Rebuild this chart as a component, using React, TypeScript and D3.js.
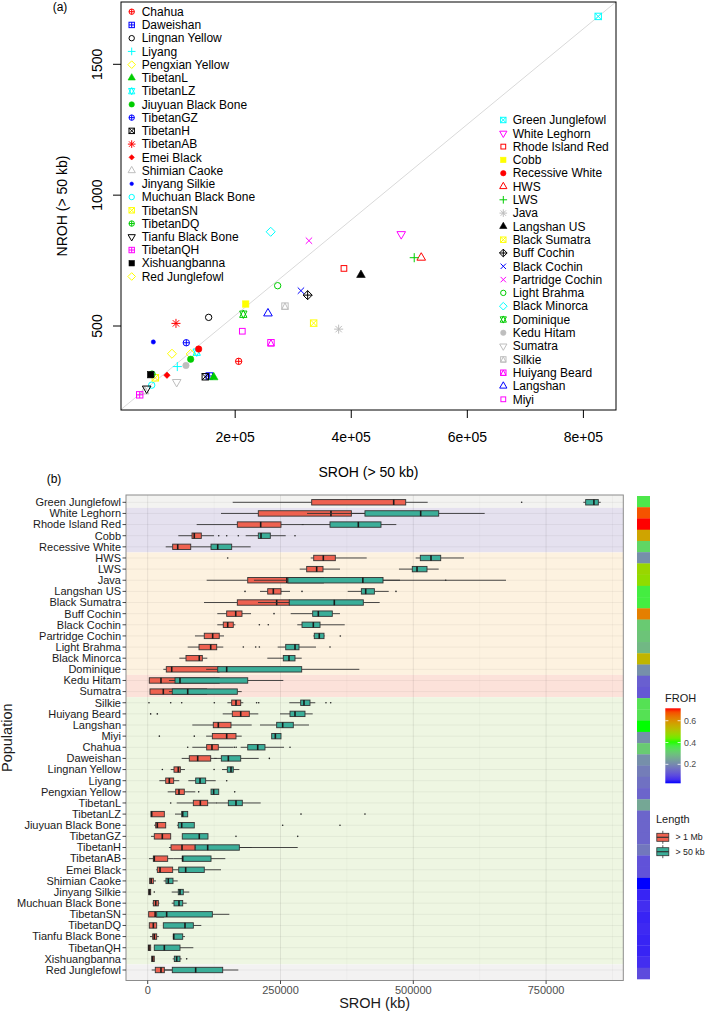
import React from "react";
import * as d3 from "d3";

// ---------- Panel (a) data: mean SROH / NROH (> 50 kb) ----------
const scatterPops = [
  "Chahua", "Daweishan", "Lingnan Yellow", "Liyang", "Pengxian Yellow", "TibetanL", "TibetanLZ",
  "Jiuyuan Black Bone", "TibetanGZ", "TibetanH", "TibetanAB", "Emei Black", "Shimian Caoke",
  "Jinyang Silkie", "Muchuan Black Bone", "TibetanSN", "TibetanDQ", "Tianfu Black Bone", "TibetanQH",
  "Xishuangbanna", "Red Junglefowl",
  "Green Junglefowl", "White Leghorn", "Rhode Island Red", "Cobb", "Recessive White", "HWS", "LWS",
  "Java", "Langshan US", "Black Sumatra", "Buff Cochin", "Black Cochin", "Partridge Cochin",
  "Light Brahma", "Black Minorca", "Dominique", "Kedu Hitam", "Sumatra", "Silkie", "Huiyang Beard",
  "Langshan", "Miyi",
];
const leftLegendCount = 21;
const scatterSROH = [
  206000, 155400, 154300, 100300, 123300, 163000, 133700, 123300, 115800, 148500, 98000, 82500, 44000,
  59000, 56200, 62400, 56700, 47500, 35500, 54400, 91100,
  825500, 486100, 387400, 218100, 137100, 520600, 508500, 378300, 416700, 335200, 324900, 313300,
  327100, 273200, 261200, 214000, 115200, 99200, 285800, 261700, 256500, 212300,
];
const scatterNROH = [
  365, 309, 533, 345, 393, 304, 400, 373, 436, 306, 510, 312, 250, 439, 274, 302, 316, 261, 237, 314,
  394,
  1683, 851, 720, 584, 412, 761, 761, 488, 695, 511, 618, 635, 826, 654, 860, 545, 349, 286, 576,
  436, 548, 480,
];
const scatterPch = [
  10, 12, 1, 3, 5, 17, 11, 16, 10, 7, 8, 18, 2, 20, 1, 7, 10, 6, 12, 15, 5,
  7, 6, 0, 15, 16, 2, 3, 8, 17, 7, 9, 4, 4, 1, 5, 11, 16, 6, 14, 14, 2, 0,
];
const scatterColor = [
  "#FF0000", "#0000FF", "#000000", "#00FFFF", "#FFFF00", "#00CD00", "#00FFFF", "#00CD00", "#0000FF",
  "#000000", "#FF0000", "#FF0000", "#BEBEBE", "#0000FF", "#00FFFF", "#FFFF00", "#00CD00", "#000000",
  "#FF00FF", "#000000", "#FFFF00",
  "#00FFFF", "#FF00FF", "#FF0000", "#FFFF00", "#FF0000", "#FF0000", "#00CD00", "#BEBEBE", "#000000",
  "#FFFF00", "#000000", "#0000FF", "#FF00FF", "#00CD00", "#00FFFF", "#00CD00", "#BEBEBE", "#BEBEBE",
  "#BEBEBE", "#FF00FF", "#0000FF", "#FF00FF",
];
const diagIntercept = 175;
const diagSlope = 0.001826;
const xTicksA = [200000, 400000, 600000, 800000];
const xTickLabelsA = ["2e+05", "4e+05", "6e+05", "8e+05"];
const yTicksA = [500, 1000, 1500];

// ---------- Panel (b) data: SROH distributions ----------
const populations = [
  "Green Junglefowl", "White Leghorn", "Rhode Island Red", "Cobb", "Recessive White", "HWS", "LWS",
  "Java", "Langshan US", "Black Sumatra", "Buff Cochin", "Black Cochin", "Partridge Cochin",
  "Light Brahma", "Black Minorca", "Dominique", "Kedu Hitam", "Sumatra", "Silkie", "Huiyang Beard",
  "Langshan", "Miyi", "Chahua", "Daweishan", "Lingnan Yellow", "Liyang", "Pengxian Yellow", "TibetanL",
  "TibetanLZ", "Jiuyuan Black Bone", "TibetanGZ", "TibetanH", "TibetanAB", "Emei Black",
  "Shimian Caoke", "Jinyang Silkie", "Muchuan Black Bone", "TibetanSN", "TibetanDQ",
  "Tianfu Black Bone", "TibetanQH", "Xishuangbanna", "Red Junglefowl",
];
// > 1 Mb : [lower whisker, Q1, median, Q3, upper whisker]
const mbLow = [160000, 138000, 92200, 57600, 33900, 306900, 286100, 111000, 211400, 106000, 131000, 131000, 89000, 75300, 59500, 29400, 3000, 4300, 150000, 141200, 84000, 110000, 84000, 64000, 43300, 21900, 37600, 54600, 6200, 12000, 6200, 40000, 2400, 16000, 3700, 1800, 9000, 1500, 3000, 4300, 1100, 7500, 7500];
const mbQ1 = [308700, 208200, 168700, 83400, 47000, 312500, 299300, 188300, 225900, 168700, 148700, 142300, 106500, 96600, 72100, 35000, 3000, 4300, 158100, 159300, 123500, 121700, 111000, 78300, 49500, 33900, 52700, 85900, 6200, 15100, 12400, 43900, 10600, 18100, 3700, 1800, 10600, 1800, 3000, 9400, 1100, 7500, 14300];
const mbMed = [463100, 345000, 212700, 87700, 56500, 330600, 318100, 262000, 236500, 242800, 165700, 150600, 122300, 118600, 97100, 45200, 25000, 29400, 166200, 175100, 132900, 148700, 121000, 94100, 57600, 40700, 58900, 99100, 7500, 18100, 27500, 64600, 12400, 23200, 6500, 3500, 15100, 14000, 10600, 12400, 2500, 9400, 25000];
const mbQ3 = [485700, 383400, 250900, 100900, 81000, 353200, 330000, 331000, 250900, 266600, 177500, 161100, 134700, 129900, 102800, 134200, 134700, 111000, 175100, 191300, 156800, 166200, 132900, 118600, 61400, 48900, 68900, 112900, 31300, 33900, 43300, 89000, 37600, 47000, 10600, 5600, 20000, 30000, 16900, 16900, 5600, 12400, 31300];
const mbHigh = [527100, 420000, 293700, 124800, 98500, 412300, 362000, 475000, 267900, 294800, 194500, 165000, 143600, 142300, 112200, 150000, 140000, 120000, 180000, 208200, 195800, 177000, 161100, 130000, 70200, 59500, 89600, 129900, 31300, 33900, 43300, 195800, 48200, 47000, 15600, 5600, 22000, 30000, 16900, 21000, 5600, 12400, 46300];
const mbOutliers = [[704000], [], [], [133700, 148700], [], [150600], [], [561000], [183200, 290500], [], [237800], [210200, 227000], [], [180000, 203300, 210200], [], [], [], [], [2400, 43300, 64000, 125400, 205000, 209000], [5600, 18100], [], [21900, 87700], [75300], [], [27600], [], [96000], [43300], [], [], [], [], [], [], [], [12400], [], [], [], [], [], [], []];
// > 50 kb
const kbLow = [820000, 300000, 290000, 184500, 98500, 504500, 473000, 200000, 376500, 207600, 269200, 281600, 311800, 244700, 225200, 110000, 40000, 40000, 266600, 249100, 211400, 233400, 175000, 125000, 139900, 76500, 119200, 128600, 51400, 55000, 65100, 89600, 48200, 47000, 30000, 45200, 45200, 16900, 29400, 48200, 12400, 47000, 31300];
const kbQ1 = [824500, 409000, 343200, 208200, 119200, 513200, 498100, 264000, 402200, 266600, 310600, 290500, 313600, 259800, 255300, 131800, 51400, 46300, 288000, 267900, 242800, 233400, 188300, 138600, 149900, 90300, 119200, 151800, 64000, 57600, 65100, 89600, 65100, 58400, 34400, 57600, 49500, 16900, 29400, 48200, 12400, 50100, 46300];
const kbMed = [840000, 513900, 396500, 213300, 131800, 533300, 507000, 405000, 410400, 351300, 321200, 311800, 323000, 277300, 266000, 148700, 60800, 75300, 294200, 277300, 254100, 240300, 207100, 151800, 156800, 98500, 124200, 166200, 65900, 64000, 97100, 112900, 65900, 71500, 38800, 60800, 58900, 35700, 70200, 49000, 31300, 54600, 90300];
const kbQ3 = [848300, 547800, 439200, 230800, 158100, 551600, 525800, 443000, 426700, 405900, 347500, 324400, 331900, 284800, 277300, 289900, 188300, 168700, 305500, 296100, 274100, 250900, 220800, 175100, 161100, 109100, 133700, 178100, 75300, 87700, 113500, 172500, 119200, 106500, 47600, 67000, 65900, 121700, 85900, 65900, 60800, 60800, 141200];
const kbHigh = [852800, 634400, 468000, 259800, 193900, 595400, 547800, 674500, 453700, 436700, 362000, 370900, 333000, 316800, 289900, 398400, 255300, 177000, 315500, 310600, 303600, 250900, 256600, 209000, 172500, 128000, 133700, 212700, 75300, 87700, 113500, 282400, 146100, 138000, 56500, 78300, 73400, 153700, 100900, 70200, 85900, 64000, 170600];
const kbOutliers = [[], [], [], [170600, 277300], [], [], [], [], [467400], [], [], [], [362600], [343200], [], [], [], [], [335600, 344500], [], [], [], [163000, 166500, 267900], [229000], [125000], [148700], [163800], [], [288600, 409000], [254100, 362000], [166200, 282400], [], [], [], [], [], [], [], [], [], [], [73400], []];
// FROH per population (colour strip)
const froh = [0.36, 0.675, 0.714, 0.57, 0.33, 0.21, 0.48, 0.47, 0.37, 0.37, 0.625, 0.31, 0.3, 0.28, 0.54, 0.21, 0.13, 0.12, 0.35, 0.35, 0.4, 0.21, 0.31, 0.21, 0.18, 0.16, 0.14, 0.25, 0.14, 0.14, 0.14, 0.17, 0.11, 0.11, 0.026, 0.05, 0.06, 0.05, 0.055, 0.05, 0.05, 0.06, 0.1];
const frohMin = 0.026;
const frohMax = 0.714;
const frohTicks = [0.2, 0.4, 0.6];
const xTicksB = [0, 250000, 500000, 750000];
const xMinorB = [125000, 375000, 625000, 875000];
const groupFirst = ["Green Junglefowl", "White Leghorn", "HWS", "Kedu Hitam", "Silkie", "Red Junglefowl"];
const groupLast = ["Green Junglefowl", "Recessive White", "Dominique", "Sumatra", "Xishuangbanna", "Red Junglefowl"];
const lengthLabels = ["> 1 Mb", "> 50 kb"];

const FONT = "'Liberation Sans', Arial, Helvetica, sans-serif";

function Pch({ pch, x, y, color, R = 3.2 }: { pch: number; x: number; y: number; color: string; R?: number }) {
  const st = { fill: "none", stroke: color, strokeWidth: 1 };
  const fl = { fill: color, stroke: color, strokeWidth: 0.6 };
  const tri = (up: boolean, r0 = R) => {
    const r = 1.5551 * r0, yc = 0.7776 * r0, xc = 1.3468 * r0;
    const s = up ? 1 : -1;
    return `${x},${y - s * r} ${x + xc},${y + s * yc} ${x - xc},${y + s * yc}`;
  };
  const sq = (h: number) => ({ x: x - h, y: y - h, width: 2 * h, height: 2 * h });
  const diam = (h: number) => `${x},${y - h} ${x + h},${y} ${x},${y + h} ${x - h},${y}`;
  const plus = (h: number) => `M${x - h},${y}H${x + h}M${x},${y - h}V${y + h}`;
  const cross = (h: number) => `M${x - h},${y - h}L${x + h},${y + h}M${x - h},${y + h}L${x + h},${y - h}`;
  switch (pch) {
    case 0: return <rect {...sq(0.886 * R)} {...st} />;
    case 1: return <circle cx={x} cy={y} r={R} {...st} />;
    case 2: return <polygon points={tri(true)} {...st} />;
    case 3: return <path d={plus(1.414 * R)} {...st} />;
    case 4: return <path d={cross(R)} {...st} />;
    case 5: return <polygon points={diam(1.414 * R)} {...st} />;
    case 6: return <polygon points={tri(false)} {...st} />;
    case 7: return <g><rect {...sq(R)} {...st} /><path d={cross(R)} {...st} /></g>;
    case 8: return <g><path d={cross(R)} {...st} /><path d={plus(1.414 * R)} {...st} /></g>;
    case 9: return <g><polygon points={diam(1.414 * R)} {...st} /><path d={plus(1.414 * R)} {...st} /></g>;
    case 10: return <g><circle cx={x} cy={y} r={R} {...st} /><path d={plus(R)} {...st} /></g>;
    case 11: {
      const r = 1.5551 * R * 0.85, yc = 0.5 * (0.7776 * R * 0.85 + r), xc = 1.3468 * R * 0.85;
      return <g>
        <polygon points={`${x},${y - r} ${x + xc},${y + yc} ${x - xc},${y + yc}`} {...st} />
        <polygon points={`${x},${y + r} ${x + xc},${y - yc} ${x - xc},${y - yc}`} {...st} />
      </g>;
    }
    case 12: return <g><rect {...sq(R)} {...st} /><path d={plus(R)} {...st} /></g>;
    case 13: return <g><circle cx={x} cy={y} r={R} {...st} /><path d={cross(R * 0.707)} {...st} /></g>;
    case 14: return <g><rect {...sq(R)} {...st} /><polygon points={`${x},${y - R} ${x + R},${y + R} ${x - R},${y + R}`} {...st} /></g>;
    case 15: return <rect {...sq(R)} {...fl} />;
    case 16: return <circle cx={x} cy={y} r={R} {...fl} />;
    case 17: return <polygon points={tri(true)} {...fl} />;
    case 18: return <polygon points={diam(R)} {...fl} />;
    case 20: return <circle cx={x} cy={y} r={R * 0.66} {...fl} />;
    default: return <circle cx={x} cy={y} r={R} {...st} />;
  }
}

export default function App() {
  const W = 709, H = 1012;
  // ---- Panel a geometry
  const aL = 121, aR = 616, aT = 2, aB = 410;
  const xA = d3.scaleLinear().domain([0, 800000]).range([119.1, 583.4]);
  const yA = d3.scaleLinear().domain([500, 1500]).range([326, 64.3]);
  const dx0 = xA.invert(aL), dx1 = xA.invert(aR);

  // ---- Panel b geometry
  const bL = 126, bR = 623.3, bT = 495, bB = 980.5;
  const xB = d3.scaleLinear().domain([0, 750000]).range([147.7, 546.1]);
  const yB = d3.scalePoint<string>().domain(populations).range([502.3, 970]);
  const step = yB.step();
  const boxH = 5.4;
  const bandFills = ["#F3F3F1", "#E5E1EF", "#FDF2E0", "#FCE2DA", "#EEF6E2", "#F3F2F2"];

  const yC = d3.scaleBand<string>().domain(populations).range([496, 979]);
  const frohColor = d3.scaleLinear<string>().domain([frohMin, 0.4, frohMax])
    .range(["#0000FF", "#00FF00", "#FF0000"]).interpolate(d3.interpolateLab);
  const yLeg = d3.scaleLinear().domain([frohMin, frohMax]).range([783.3, 708.3]);
  const gradStops = d3.range(0, 1.0001, 0.05).map((t) => ({
    off: t, col: frohColor(frohMax - t * (frohMax - frohMin)),
  }));

  const lenFill = ["#EE6150", "#3BAE99"];

  const drawBox = (i: number, low: number[], q1: number[], med: number[], q3: number[], high: number[], outs: number[][], fill: string, key: string) => {
    const p = populations[i];
    const cy = (yB(p) as number);
    return (
      <g key={key + i}>
        <line x1={xB(low[i])} x2={xB(q1[i])} y1={cy} y2={cy} stroke="#333" strokeWidth={0.9} />
        <line x1={xB(q3[i])} x2={xB(high[i])} y1={cy} y2={cy} stroke="#333" strokeWidth={0.9} />
        <rect x={xB(q1[i])} y={cy - boxH / 2} width={Math.max(0.8, xB(q3[i]) - xB(q1[i]))} height={boxH}
          fill={fill} stroke="#333" strokeWidth={0.9} />
        <line x1={xB(med[i])} x2={xB(med[i])} y1={cy - boxH / 2} y2={cy + boxH / 2} stroke="#1a1a1a" strokeWidth={1.6} />
        {outs[i].map((v, j) => <circle key={j} cx={xB(v)} cy={cy} r={0.8} fill="#222" />)}
      </g>
    );
  };

  return (
    <svg width={W} height={H} style={{ position: "absolute", left: 0, top: 0, background: "#fff" }} fontFamily={FONT}>
      <defs>
        <clipPath id="clipA"><rect x={aL} y={aT} width={aR - aL} height={aB - aT} /></clipPath>
        <linearGradient id="frohGrad" x1="0" y1="0" x2="0" y2="1">
          {gradStops.map((s, i) => <stop key={i} offset={s.off} stopColor={s.col} />)}
        </linearGradient>
      </defs>

      {/* ================= Panel (a) ================= */}
      <text x={60} y={7} dy="0.35em" fontSize={12} textAnchor="middle">(a)</text>
      <g clipPath="url(#clipA)">
        <line x1={xA(dx0)} y1={yA(diagIntercept + diagSlope * dx0)} x2={xA(dx1)} y2={yA(diagIntercept + diagSlope * dx1)}
          stroke="#D9D9D9" strokeWidth={1} />
        {scatterPops.map((p, i) => (
          <Pch key={p} pch={scatterPch[i]} x={xA(scatterSROH[i])} y={yA(scatterNROH[i])} color={scatterColor[i]} />
        ))}
      </g>
      <rect x={aL} y={aT} width={aR - aL} height={aB - aT} fill="none" stroke="#000" strokeWidth={1} />
      {xTicksA.map((t, i) => (
        <g key={t}>
          <line x1={xA(t)} x2={xA(t)} y1={aB} y2={aB + 8} stroke="#000" />
          <text x={xA(t)} y={437} dy="0.35em" fontSize={14} textAnchor="middle">{xTickLabelsA[i]}</text>
        </g>
      ))}
      {yTicksA.map((t) => (
        <g key={t}>
          <line x1={aL - 8} x2={aL} y1={yA(t)} y2={yA(t)} stroke="#000" />
          <text transform={`translate(97,${yA(t)}) rotate(-90)`} dy="0.35em" fontSize={14} textAnchor="middle">{t}</text>
        </g>
      ))}
      <text x={(aL + aR) / 2} y={472} dy="0.35em" fontSize={14} textAnchor="middle">SROH (&gt; 50 kb)</text>
      <text transform={`translate(62,${(aT + aB) / 2}) rotate(-90)`} dy="0.35em" fontSize={14} textAnchor="middle">NROH (&gt; 50 kb)</text>
      {/* legends */}
      {scatterPops.map((p, i) => {
        const left = i < leftLegendCount;
        const k = left ? i : i - leftLegendCount;
        const sx = left ? 131.7 : 503.3;
        const tx = left ? 141.7 : 512.7;
        const ly = left ? 11.7 + k * 13.24 : 120 + k * 13.3;
        return (
          <g key={"leg" + p}>
            <Pch pch={scatterPch[i]} x={sx} y={ly} color={scatterColor[i]} R={2.7} />
            <text x={tx} y={ly} dy="0.35em" fontSize={12}>{p}</text>
          </g>
        );
      })}

      {/* ================= Panel (b) ================= */}
      <text x={54} y={479} dy="0.35em" fontSize={12} textAnchor="middle">(b)</text>
      <rect x={bL} y={bT} width={bR - bL} height={bB - bT} fill="#fff" />
      {groupFirst.map((g, i) => {
        const y0 = i === 0 ? bT : (yB(g) as number) - step / 2;
        const y1 = i === groupFirst.length - 1 ? bB : (yB(groupLast[i]) as number) + step / 2;
        return <rect key={g} x={bL} y={y0} width={bR - bL} height={y1 - y0} fill={bandFills[i]} />;
      })}
      {xMinorB.map((t) => (
        <line key={"mi" + t} x1={xB(t)} x2={xB(t)} y1={bT} y2={bB} stroke="rgba(0,0,0,0.05)" strokeWidth={0.6} />
      ))}
      {xTicksB.map((t) => (
        <line key={"ma" + t} x1={xB(t)} x2={xB(t)} y1={bT} y2={bB} stroke="rgba(0,0,0,0.08)" strokeWidth={1} />
      ))}
      {populations.map((p) => (
        <line key={"rg" + p} x1={bL} x2={bR} y1={yB(p)} y2={yB(p)} stroke="rgba(0,0,0,0.06)" strokeWidth={0.9} />
      ))}
      {populations.map((_, i) => drawBox(i, mbLow, mbQ1, mbMed, mbQ3, mbHigh, mbOutliers, lenFill[0], "mb"))}
      {populations.map((_, i) => drawBox(i, kbLow, kbQ1, kbMed, kbQ3, kbHigh, kbOutliers, lenFill[1], "kb"))}
      <rect x={bL} y={bT} width={bR - bL} height={bB - bT} fill="none" stroke="#8C8C8C" strokeWidth={1} />
      {populations.map((p) => (
        <g key={"yl" + p}>
          <line x1={bL - 3.5} x2={bL} y1={yB(p)} y2={yB(p)} stroke="#333" strokeWidth={0.9} />
          <text x={bL - 5} y={yB(p)} dy="0.35em" fontSize={11} textAnchor="end" fill="#1a1a1a">{p}</text>
        </g>
      ))}
      {xTicksB.map((t) => (
        <g key={"xl" + t}>
          <line x1={xB(t)} x2={xB(t)} y1={bB} y2={bB + 3.5} stroke="#333" strokeWidth={0.9} />
          <text x={xB(t)} y={990} dy="0.35em" fontSize={11} textAnchor="middle" fill="#4D4D4D">{String(t)}</text>
        </g>
      ))}
      <text x={(bL + bR) / 2} y={1003} dy="0.35em" fontSize={14.5} textAnchor="middle" fill="#1a1a1a">SROH (kb)</text>
      <text transform={`translate(7,${(bT + bB) / 2}) rotate(-90)`} dy="0.35em" fontSize={14.5} textAnchor="middle" fill="#1a1a1a">Population</text>

      {/* FROH strip */}
      {populations.map((p, i) => (
        <rect key={"fs" + p} x={637} y={yC(p)} width={13} height={yC.bandwidth() + 0.3} fill={frohColor(froh[i])} />
      ))}

      {/* FROH legend */}
      <text x={665} y={698} dy="0.35em" fontSize={11} fill="#1a1a1a">FROH</text>
      <rect x={665.3} y={708.3} width={15.4} height={75} fill="url(#frohGrad)" />
      {frohTicks.map((t) => (
        <g key={"ft" + t}>
          <line x1={665.3} x2={668.4} y1={yLeg(t)} y2={yLeg(t)} stroke="#fff" strokeWidth={0.8} />
          <line x1={677.6} x2={680.7} y1={yLeg(t)} y2={yLeg(t)} stroke="#fff" strokeWidth={0.8} />
          <text x={684} y={yLeg(t)} dy="0.35em" fontSize={8.8} fill="#4D4D4D">{t.toFixed(1)}</text>
        </g>
      ))}

      {/* Length legend */}
      <text x={656} y={819} dy="0.35em" fontSize={11} fill="#1a1a1a">Length</text>
      {lengthLabels.map((l, i) => {
        const cy = 837.3 + i * 14.4;
        return (
          <g key={l}>
            <line x1={662.8} x2={662.8} y1={cy - 6.5} y2={cy + 6.5} stroke="#333" strokeWidth={0.8} />
            <rect x={656.8} y={cy - 4} width={12} height={8} fill={lenFill[i]} stroke="#333" strokeWidth={0.8} />
            <line x1={656.8} x2={668.8} y1={cy} y2={cy} stroke="#333" strokeWidth={1.2} />
            <text x={675.5} y={cy} dy="0.35em" fontSize={8.8} fill="#1a1a1a">{l}</text>
          </g>
        );
      })}
    </svg>
  );
}
